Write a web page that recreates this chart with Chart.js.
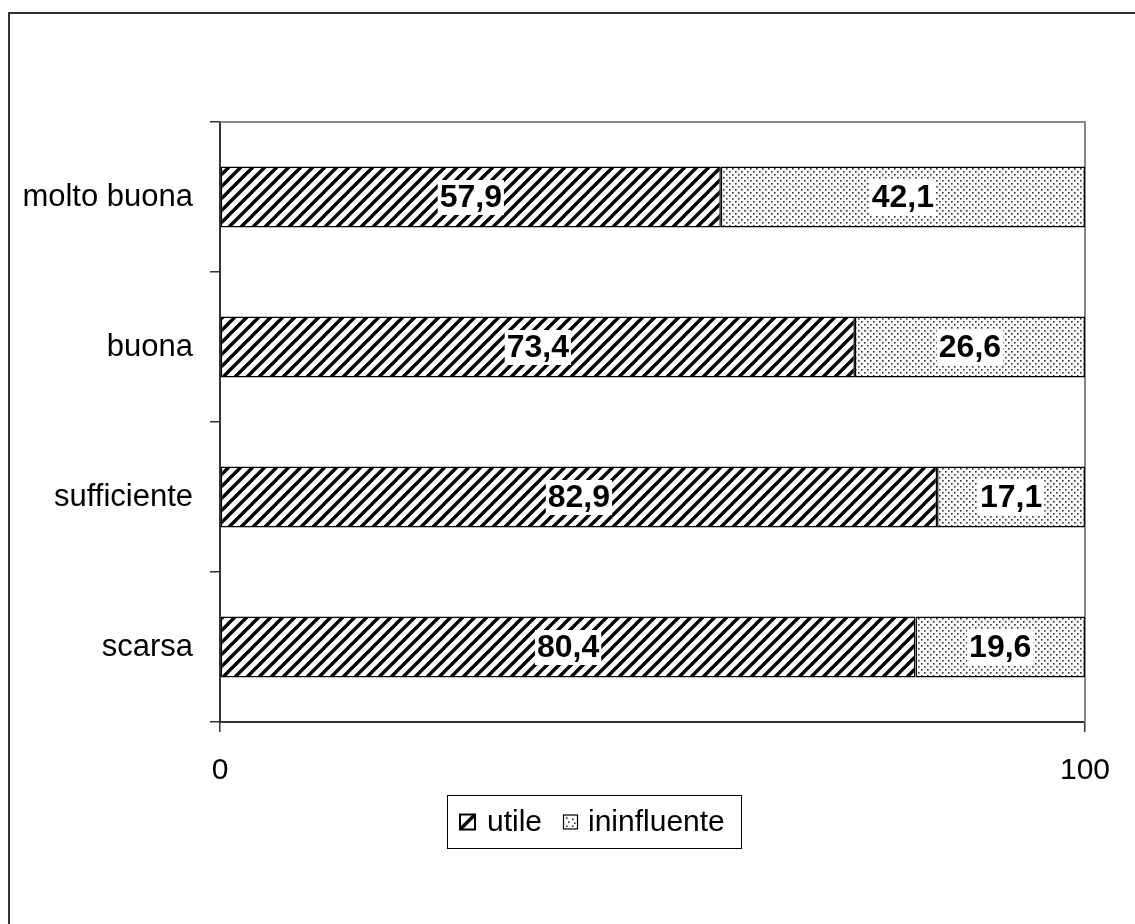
<!DOCTYPE html>
<html>
<head>
<meta charset="utf-8">
<script src="https://cdn.jsdelivr.net/npm/chart.js@4/dist/chart.umd.min.js"></script>
<style>
  html, body { margin: 0; padding: 0; background: #fff; }
  #wrap { width: 1135px; height: 924px; position: relative; }
</style>
</head>
<body>
<div id="wrap"><canvas id="c" width="1135" height="924"></canvas></div>
<script>
// Valutazione (categorie) e quote percentuali
const categories = ['molto buona', 'buona', 'sufficiente', 'scarsa'];
const utile = [57.9, 73.4, 82.9, 80.4];
const ininfluente = [42.1, 26.6, 17.1, 19.6];
const seriesNames = ['utile', 'ininfluente'];
const xTicks = [0, 100];

const FONT = "'Liberation Sans', Arial, sans-serif";

// Riempimento a tratteggio diagonale
function hatchPattern() {
  const s = 12;
  const c = document.createElement('canvas');
  c.width = s; c.height = s;
  const g = c.getContext('2d');
  g.fillStyle = '#fff';
  g.fillRect(0, 0, s, s);
  g.strokeStyle = '#000';
  g.lineWidth = 3.4;
  g.beginPath();
  for (let k = -1; k <= 1; k++) {
    g.moveTo(k * s - 1, s + 1);
    g.lineTo(k * s + s + 1, -1);
  }
  g.stroke();
  return g.createPattern(c, 'repeat');
}

// Riempimento a puntini
function dotPattern() {
  const s = 6;
  const c = document.createElement('canvas');
  c.width = s; c.height = s;
  const g = c.getContext('2d');
  g.fillStyle = '#fbfbfb';
  g.fillRect(0, 0, s, s);
  g.fillStyle = '#333';
  g.fillRect(0, 0, 1.6, 1.6);
  g.fillRect(3, 3, 1.6, 1.6);
  return g.createPattern(c, 'repeat');
}

const fills = [hatchPattern(), dotPattern()];

const fmt = v => v.toFixed(1).replace('.', ',');

// Cornice esterna, bordo dell'area del grafico ed etichette dei valori
const decorations = {
  id: 'decorations',
  beforeDraw(chart) {
    const ctx = chart.ctx;
    ctx.save();
    ctx.fillStyle = '#fff';
    ctx.fillRect(0, 0, chart.width, chart.height);
    ctx.strokeStyle = '#333';
    ctx.lineWidth = 2;
    ctx.strokeRect(9, 13, chart.width + 20, chart.height + 20);
    ctx.restore();
  },
  beforeDatasetsDraw(chart) {
    const a = chart.chartArea;
    const ctx = chart.ctx;
    ctx.save();
    ctx.strokeStyle = '#888';
    ctx.lineWidth = 2;
    ctx.beginPath();
    ctx.moveTo(a.left, a.top);
    ctx.lineTo(a.right, a.top);
    ctx.lineTo(a.right, a.bottom);
    ctx.stroke();
    ctx.restore();
  },
  afterDatasetsDraw(chart) {
    const ctx = chart.ctx;
    ctx.save();
    ctx.font = 'bold 32px ' + FONT;
    ctx.textAlign = 'center';
    ctx.textBaseline = 'middle';
    chart.data.datasets.forEach((ds, i) => {
      const meta = chart.getDatasetMeta(i);
      meta.data.forEach((bar, j) => {
        const txt = fmt(ds.data[j]);
        const cx = (bar.x + bar.base) / 2;
        const cy = bar.y;
        const w = ctx.measureText(txt).width;
        ctx.fillStyle = '#fff';
        ctx.fillRect(cx - w / 2 - 2, cy - 17, w + 4, 35);
        ctx.fillStyle = '#000';
        ctx.fillText(txt, cx, cy + 1);
      });
    });
    ctx.restore();
  },
  afterDraw(chart) {
    // Legenda
    const ctx = chart.ctx;
    ctx.save();
    const bx = 447, by = 795, bw = 294, bh = 53;
    ctx.strokeStyle = '#000';
    ctx.lineWidth = 1;
    ctx.strokeRect(bx + 0.5, by + 0.5, bw, bh);
    ctx.font = '30px ' + FONT;
    ctx.textBaseline = 'middle';
    ctx.fillStyle = '#000';
    const cy = by + bh / 2 + 1;
    // icona utile
    let ix = 460, iy = cy - 8, is = 15;
    ctx.fillStyle = '#fff';
    ctx.fillRect(ix, iy, is, is);
    ctx.lineWidth = 2;
    ctx.strokeStyle = '#000';
    ctx.strokeRect(ix, iy, is, is);
    ctx.lineWidth = 3.5;
    ctx.beginPath();
    ctx.moveTo(ix + 1, iy + is - 1);
    ctx.lineTo(ix + is - 1, iy + 1);
    ctx.stroke();
    ctx.fillStyle = '#000';
    ctx.fillText(seriesNames[0], 487, cy);
    // icona ininfluente
    ix = 563;
    ctx.fillStyle = '#fff';
    ctx.fillRect(ix, iy, is, is);
    ctx.lineWidth = 1.2;
    ctx.strokeRect(ix + 0.5, iy + 0.5, is - 1, is - 1);
    ctx.fillStyle = '#222';
    [[3, 3], [9, 4], [5, 7], [11, 8], [3, 11], [9, 11]].forEach(p => ctx.fillRect(ix + p[0], iy + p[1], 1.5, 1.5));
    ctx.fillStyle = '#000';
    ctx.fillText(seriesNames[1], 588, cy);
    ctx.restore();
  }
};

new Chart(document.getElementById('c'), {
  type: 'bar',
  data: {
    labels: categories,
    datasets: [
      { label: seriesNames[0], data: utile, backgroundColor: fills[0] },
      { label: seriesNames[1], data: ininfluente, backgroundColor: fills[1] }
    ].map(d => Object.assign(d, {
      borderColor: '#000',
      borderWidth: 1.5,
      borderSkipped: false,
      categoryPercentage: 1,
      barPercentage: 0.407
    }))
  },
  options: {
    indexAxis: 'y',
    responsive: false,
    animation: false,
    devicePixelRatio: 1,
    layout: { padding: { top: 122, right: 50, bottom: 122, left: 0 } },
    plugins: { legend: { display: false }, tooltip: { enabled: false } },
    scales: {
      x: {
        stacked: true,
        min: 0,
        max: 100,
        afterBuildTicks(scale) { scale.ticks = xTicks.map(v => ({ value: v })); },
        afterFit(scale) { scale.height = 80; },
        ticks: { color: '#000', font: { family: FONT, size: 30 }, padding: 21, maxRotation: 0 },
        grid: { drawOnChartArea: false, tickLength: 10, color: '#333', lineWidth: 1.5 },
        border: { color: '#333', width: 2 }
      },
      y: {
        stacked: true,
        afterFit(scale) { scale.width = 220; },
        ticks: { color: '#000', font: { family: FONT, size: 31 }, padding: 17 },
        grid: { offset: true, drawOnChartArea: false, tickLength: 10, color: '#333', lineWidth: 1.5 },
        border: { color: '#333', width: 2 }
      }
    }
  },
  plugins: [decorations]
});
</script>
</body>
</html>
